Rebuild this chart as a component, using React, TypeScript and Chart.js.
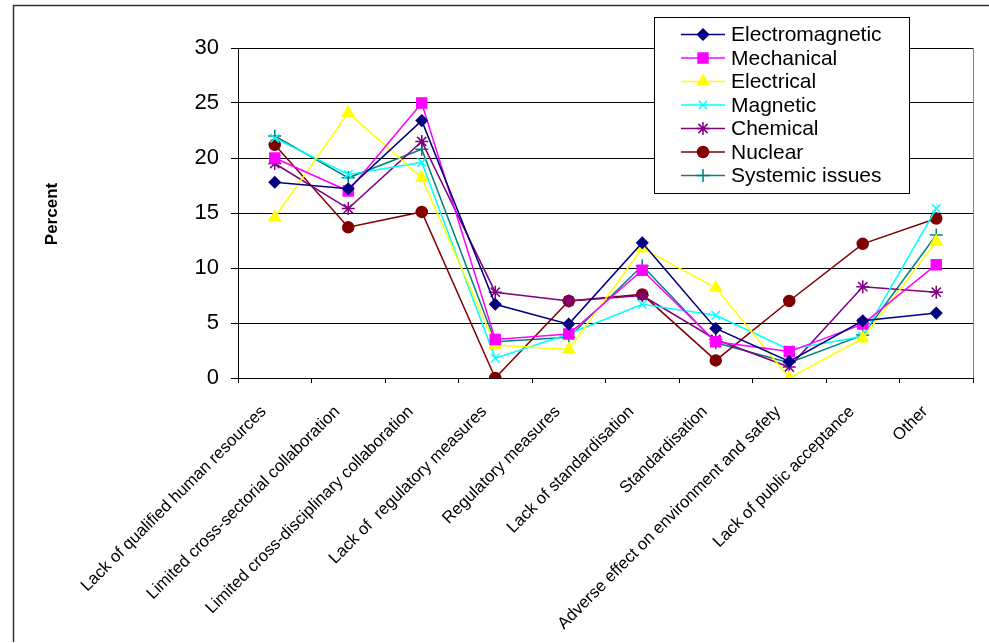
import { useEffect, useRef } from "react";
import { Chart, registerables } from "chart.js";
import { drawPoint } from "chart.js/helpers";

Chart.register(...registerables);

const FONT = "'Liberation Sans', Arial, sans-serif";

const categories = [
  "Lack of qualified human resources",
  "Limited cross-sectorial collaboration",
  "Limited cross-disciplinary collaboration",
  "Lack of  regulatory measures",
  "Regulatory measures",
  "Lack of standardisation",
  "Standardisation",
  "Adverse effect on environment and safety",
  "Lack of public acceptance",
  "Other",
];

const electromagnetic = [17.8, 17.2, 23.4, 6.7, 4.9, 12.3, 4.5, 1.5, 5.2, 5.9];
const mechanical = [20.0, 17.0, 25.0, 3.5, 4.0, 9.8, 3.3, 2.4, 4.9, 10.3];
const electrical = [14.6, 24.1, 18.2, 3.0, 2.6, 11.8, 8.2, 0.0, 3.6, 12.4];
const magnetic = [21.8, 18.5, 19.6, 1.8, 4.0, 6.7, 5.7, 2.6, 3.8, 15.4];
const chemical = [19.5, 15.4, 21.5, 7.8, 7.0, 7.5, 3.5, 1.0, 8.3, 7.8];
const nuclear = [21.2, 13.7, 15.1, 0.0, 7.0, 7.6, 1.6, 7.0, 12.2, 14.5];
const systemic = [22.0, 18.2, 20.8, 3.3, 3.7, 10.2, 3.2, 1.4, 3.9, 13.0];

const yTicks = [0, 5, 10, 15, 20, 25, 30];
const yTitle = "Percent";

type SeriesDef = {
  label: string;
  data: number[];
  color: string;
  style: string;
  radius: number;
  filled: boolean;
};

const series: SeriesDef[] = [
  { label: "Electromagnetic", data: electromagnetic, color: "#000080", style: "rectRot", radius: 5.5, filled: true },
  { label: "Mechanical", data: mechanical, color: "#FF00FF", style: "rect", radius: 7, filled: true },
  { label: "Electrical", data: electrical, color: "#FFFF00", style: "triangle", radius: 6.5, filled: true },
  { label: "Magnetic", data: magnetic, color: "#00FFFF", style: "crossRot", radius: 6, filled: false },
  { label: "Chemical", data: chemical, color: "#800080", style: "star", radius: 6.5, filled: false },
  { label: "Nuclear", data: nuclear, color: "#800000", style: "circle", radius: 5.5, filled: true },
  { label: "Systemic issues", data: systemic, color: "#008080", style: "cross", radius: 6.5, filled: false },
];

// Page frame, plot-area border, y title and the boxed legend.
const decorations = {
  id: "decorations",
  beforeDatasetsDraw(chart: any) {
    const { ctx, chartArea } = chart;
    ctx.save();
    ctx.strokeStyle = "#808080";
    ctx.lineWidth = 1;
    ctx.beginPath();
    ctx.moveTo(chartArea.right + 0.5, chartArea.top);
    ctx.lineTo(chartArea.right + 0.5, chartArea.bottom);
    ctx.stroke();
    ctx.restore();
  },
  afterDraw(chart: any) {
    const { ctx } = chart;
    ctx.save();
    // outer frame
    ctx.strokeStyle = "#333";
    ctx.lineWidth = 1.5;
    ctx.beginPath();
    ctx.moveTo(13.5, 642);
    ctx.lineTo(13.5, 5.5);
    ctx.lineTo(989, 5.5);
    ctx.stroke();

    // y axis title
    ctx.fillStyle = "#000";
    ctx.font = `bold 17px ${FONT}`;
    ctx.textAlign = "center";
    ctx.textBaseline = "middle";
    ctx.translate(52, 214);
    ctx.rotate(-Math.PI / 2);
    ctx.fillText(yTitle, 0, 0);
    ctx.restore();

    // legend
    const lx = 654;
    const ly = 17;
    const lw = 255;
    const lh = 176;
    ctx.save();
    ctx.fillStyle = "#fff";
    ctx.fillRect(lx, ly, lw, lh);
    ctx.strokeStyle = "#000";
    ctx.lineWidth = 1;
    ctx.strokeRect(lx + 0.5, ly + 0.5, lw, lh);
    chart.data.datasets.forEach((ds: any, i: number) => {
      const y = 34.5 + i * 23.5;
      ctx.strokeStyle = ds.borderColor;
      ctx.lineWidth = 1.5;
      ctx.beginPath();
      ctx.moveTo(681, y);
      ctx.lineTo(725, y);
      ctx.stroke();
      ctx.fillStyle = ds.pointBackgroundColor;
      ctx.strokeStyle = ds.pointBorderColor;
      ctx.lineWidth = 1.5;
      drawPoint(ctx, { pointStyle: ds.pointStyle, radius: ds.pointRadius, borderWidth: 1.5, rotation: 0 } as any, 703, y);
      ctx.fillStyle = "#000";
      ctx.font = `21px ${FONT}`;
      ctx.textAlign = "left";
      ctx.textBaseline = "middle";
      ctx.fillText(ds.label, 731, y + 1);
    });
    ctx.restore();
  },
};

export default function App() {
  const ref = useRef<HTMLCanvasElement>(null);

  useEffect(() => {
    if (!ref.current) return;
    const chart = new Chart(ref.current, {
      type: "line",
      data: {
        labels: categories,
        datasets: series.map((s) => ({
          label: s.label,
          data: s.data,
          borderColor: s.color,
          backgroundColor: s.color,
          pointBackgroundColor: s.filled ? s.color : "rgba(0,0,0,0)",
          pointBorderColor: s.color,
          pointStyle: s.style as any,
          pointRadius: s.radius,
          pointBorderWidth: 1.5,
          borderWidth: 1.5,
          tension: 0,
          fill: false,
        })),
      },
      options: {
        responsive: false,
        animation: false,
        events: [],
        layout: { padding: { top: 48, right: 16, left: 0, bottom: 0 } },
        plugins: {
          legend: { display: false },
          tooltip: { enabled: false },
        },
        scales: {
          x: {
            offset: true,
            grid: {
              offset: true,
              drawOnChartArea: false,
              drawTicks: true,
              tickLength: 5,
              color: "#000",
            },
            border: { color: "#000", width: 1 },
            ticks: {
              autoSkip: false,
              maxRotation: 45,
              minRotation: 45,
              padding: 19,
              labelOffset: -11,
              color: "#000",
              font: { family: FONT, size: 16.7 },
            },
            afterFit: (scale: any) => {
              scale.height = 643 - 378;
            },
          },
          y: {
            min: 0,
            max: 30,
            afterBuildTicks: (scale: any) => {
              scale.ticks = yTicks.map((v) => ({ value: v }));
            },
            grid: {
              color: "#000",
              lineWidth: 1,
              drawTicks: true,
              tickLength: 7,
            },
            border: { color: "#000", width: 1 },
            ticks: {
              padding: 12,
              color: "#000",
              font: { family: FONT, size: 22 },
            },
            afterFit: (scale: any) => {
              scale.width = 238;
            },
          },
        },
      },
      plugins: [decorations],
    });
    return () => chart.destroy();
  }, []);

  return (
    <div style={{ position: "fixed", left: 0, top: 0, width: 989, height: 643, background: "#fff" }}>
      <canvas ref={ref} width={989} height={643} style={{ width: 989, height: 643 }} />
    </div>
  );
}
